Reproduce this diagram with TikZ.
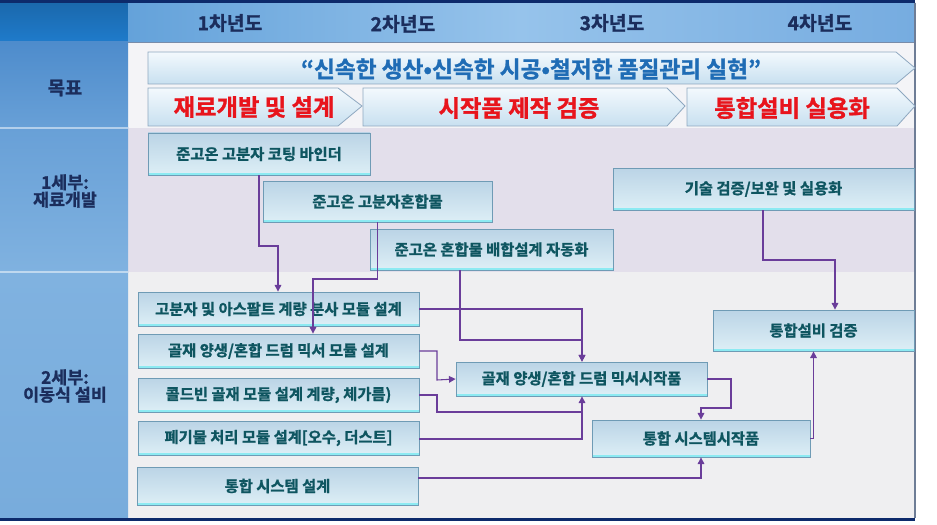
\documentclass[tikz,border=0pt]{standalone}
\usepackage{fontspec}
\setmainfont{Noto Sans CJK KR}[BoldFont={Noto Sans CJK KR Bold}, BoldFeatures={FakeBold=1.2}]
\usetikzlibrary{arrows.meta}
\definecolor{navy}{HTML}{0D2A6B}
\definecolor{hdrL}{HTML}{1F7BCB}
\definecolor{rowA}{HTML}{F4F4F7}
\definecolor{rowB}{HTML}{E3DFEB}
\definecolor{rowC}{HTML}{EFEFF1}
\definecolor{teal}{HTML}{0E5560}
\definecolor{lbl}{HTML}{1B2D5C}
\definecolor{conn}{HTML}{6A3D9A}
\definecolor{goal}{HTML}{1F6CB5}
\definecolor{redt}{HTML}{E8141C}
\definecolor{bxtop}{HTML}{BBD4E6}
\definecolor{bxbot}{HTML}{DDEFF6}
\definecolor{bxline}{HTML}{6F9BB5}
\definecolor{cyanl}{HTML}{8CEAF2}
\definecolor{chtop}{HTML}{F3F9FD}
\definecolor{chbot}{HTML}{C8E0F0}
\definecolor{chline}{HTML}{8EA8C0}
\definecolor{lc1}{HTML}{4E8CCC}
\definecolor{lc2}{HTML}{68A0D7}
\definecolor{lc3}{HTML}{80B2E0}
\definecolor{lc4}{HTML}{78ACDC}
\definecolor{hd1}{HTML}{64A2DA}
\definecolor{hd2}{HTML}{96C3EB}
\definecolor{hd3}{HTML}{76ACE0}
\definecolor{hdline}{HTML}{788CAA}
\definecolor{rline}{HTML}{6E7D96}
\tikzset{
  mbox/.style={shade, top color=bxtop, bottom color=bxbot, draw=bxline, line width=0.6pt,
    inner sep=0pt, text=teal, font=\bfseries\fontsize{11.5}{13}\selectfont,
    path picture={\draw[cyanl, line width=1.6pt]
      ([yshift=0.8pt]path picture bounding box.south west) -- ([yshift=0.8pt]path picture bounding box.south east);}},
  chev/.style={shade, top color=chtop, bottom color=chbot, draw=chline, line width=0.6pt},
  cn/.style={draw=conn, line width=0.8pt},
  ar/.style={cn, -{Triangle[length=5pt,width=5pt]}},
  yr/.style={text=lbl, font=\bfseries\fontsize{14.5}{16}\selectfont},
  side/.style={text=lbl, font=\bfseries\fontsize{13}{15}\selectfont, align=center},
  redl/.style={text=redt, font=\bfseries\fontsize{17.5}{19}\selectfont},
}
\newcommand\bx[6]{\node[mbox, minimum width={(#4-#2)*0.75pt}, minimum height={(#5-#3)*0.75pt}] (#1) at ({(#2+#4)/2},{(#3+#5)/2}) {#6};}
\begin{document}
\begin{tikzpicture}[x=0.75pt,y=-0.75pt]
\useasboundingbox (0,0) rectangle (937,524);
\fill[white] (0,0) rectangle (937,524);
% rows
\fill[rowA] (128,42) rectangle (915,128);
\fill[rowB] (128,128) rectangle (915,272);
\fill[rowC] (128,272) rectangle (915,518);
% left column
\shade[top color=hdrL!85!black, bottom color=hdrL] (0,3) rectangle (128,42);
\shade[top color=lc1, bottom color=lc2] (0,42) rectangle (128,128);
\shade[top color=lc2, bottom color=lc3] (0,128) rectangle (128,272);
\shade[top color=lc3, bottom color=lc4] (0,272) rectangle (128,518);
\draw[white, opacity=0.5, line width=0.8pt] (0,128) -- (128,128) (0,272) -- (128,272);
% header
\shade[left color=hd1, right color=hd2] (128,3) rectangle (520,42);
\shade[left color=hd2, right color=hd3] (520,3) rectangle (915,42);
\draw[hdline, line width=1pt] (128,42.5) -- (915,42.5);
\fill[navy] (0,0) rectangle (915,3);
\fill[navy] (0,518) rectangle (915,521);
\draw[rline, line width=0.8pt] (915,3) -- (915,518);
\node[yr] (y1) at (230,23) {1차년도};
\node[yr] (y2) at (403,24) {2차년도};
\node[yr] (y3) at (612,23) {3차년도};
\node[yr] (y4) at (820,23) {4차년도};
% side labels
\node[side, font=\bfseries\fontsize{14}{16}\selectfont] (s0) at (65,88) {목표};
\node[side] (s1) at (65,191) {1세부:\\[-2pt]재료개발};
\node[side] (s2) at (65,386) {2세부:\\[-2pt]이동식 설비};
% chevrons
\draw[chev] (148,52) -- (896,52) -- (915,68) -- (896,84) -- (148,84) -- cycle;
\node[text=goal, font=\bfseries\fontsize{17}{19}\selectfont] (g0) at (531,69) {“신속한 생산•신속한 시공•철저한 품질관리 실현”};
\draw[chev] (148,88) -- (338,88) -- (362,106) -- (338,126) -- (148,126) -- cycle;
\draw[chev] (363,88) -- (667,88) -- (685,106) -- (667,126) -- (363,126) -- cycle;
\draw[chev] (687,88) -- (897,88) -- (915,106) -- (897,126) -- (687,126) -- cycle;
\node[redl] (g1) at (254,107) {재료개발 및 설계};
\node[redl] (g2) at (519,108) {시작품 제작 검증};
\node[redl] (g3) at (792,108) {통합설비 실용화};
% 1세부 boxes
\bx{b1}{148}{133}{370}{175}{준고온 고분자 코팅 바인더}
\bx{b2}{263}{181}{492}{222}{준고온 고분자혼합물}
\bx{b3}{370}{229}{613}{270}{준고온 혼합물 배합설계 자동화}
\bx{t1}{613}{168}{914}{210}{기술 검증/보완 및 실용화}
% 2세부 boxes
\bx{m1}{138}{292}{419}{326}{고분자 및 아스팔트 계량 분사 모듈 설계}
\bx{m2}{138}{334}{419}{368}{골재 양생/혼합 드럼 믹서 모듈 설계}
\bx{m3}{138}{378}{419}{412}{콜드빈 골재 모듈 설계 계량, 체가름)}
\bx{m4}{138}{421}{419}{455}{폐기물 처리 모듈 설계[오수, 더스트]}
\bx{m5}{137}{467}{418}{505}{통합 시스템 설계}
\bx{mx}{456}{362}{707}{396}{골재 양생/혼합 드럼 믹서시작품}
\bx{sx}{592}{420}{810}{457}{통합 시스템시작품}
\bx{vx}{713}{310}{914}{351}{통합설비 검증}
% connectors
\draw[ar] (b1.south) |- (278,246) -- (278,0 |- m1.north);
\draw[ar] (b2.south) |- (313,279) -- (313,0 |- m2.north);
\draw[ar] (460,0 |- b3.south) |- (582,340) -- (582,0 |- mx.north);
\draw[ar] (m1.east) -| (582,0 |- mx.north);
\draw[ar] (m2.east) -| (437,380) -- (mx.west);
\draw[cn] (m3.east) -| (437,412) -- (582,412);
\draw[ar] (m4.east |- 0,439) -| (582,0 |- mx.south);
\draw[ar] (m5.east |- 0,478) -| (sx.south);
\draw[ar] (mx.east) -| (731,408) -| (sx.north);
\draw[ar] (sx.east) -| (vx.south);
\draw[ar] (763,0 |- t1.south) |- (835,260) -- (835,0 |- vx.north);
\end{tikzpicture}
\end{document}
